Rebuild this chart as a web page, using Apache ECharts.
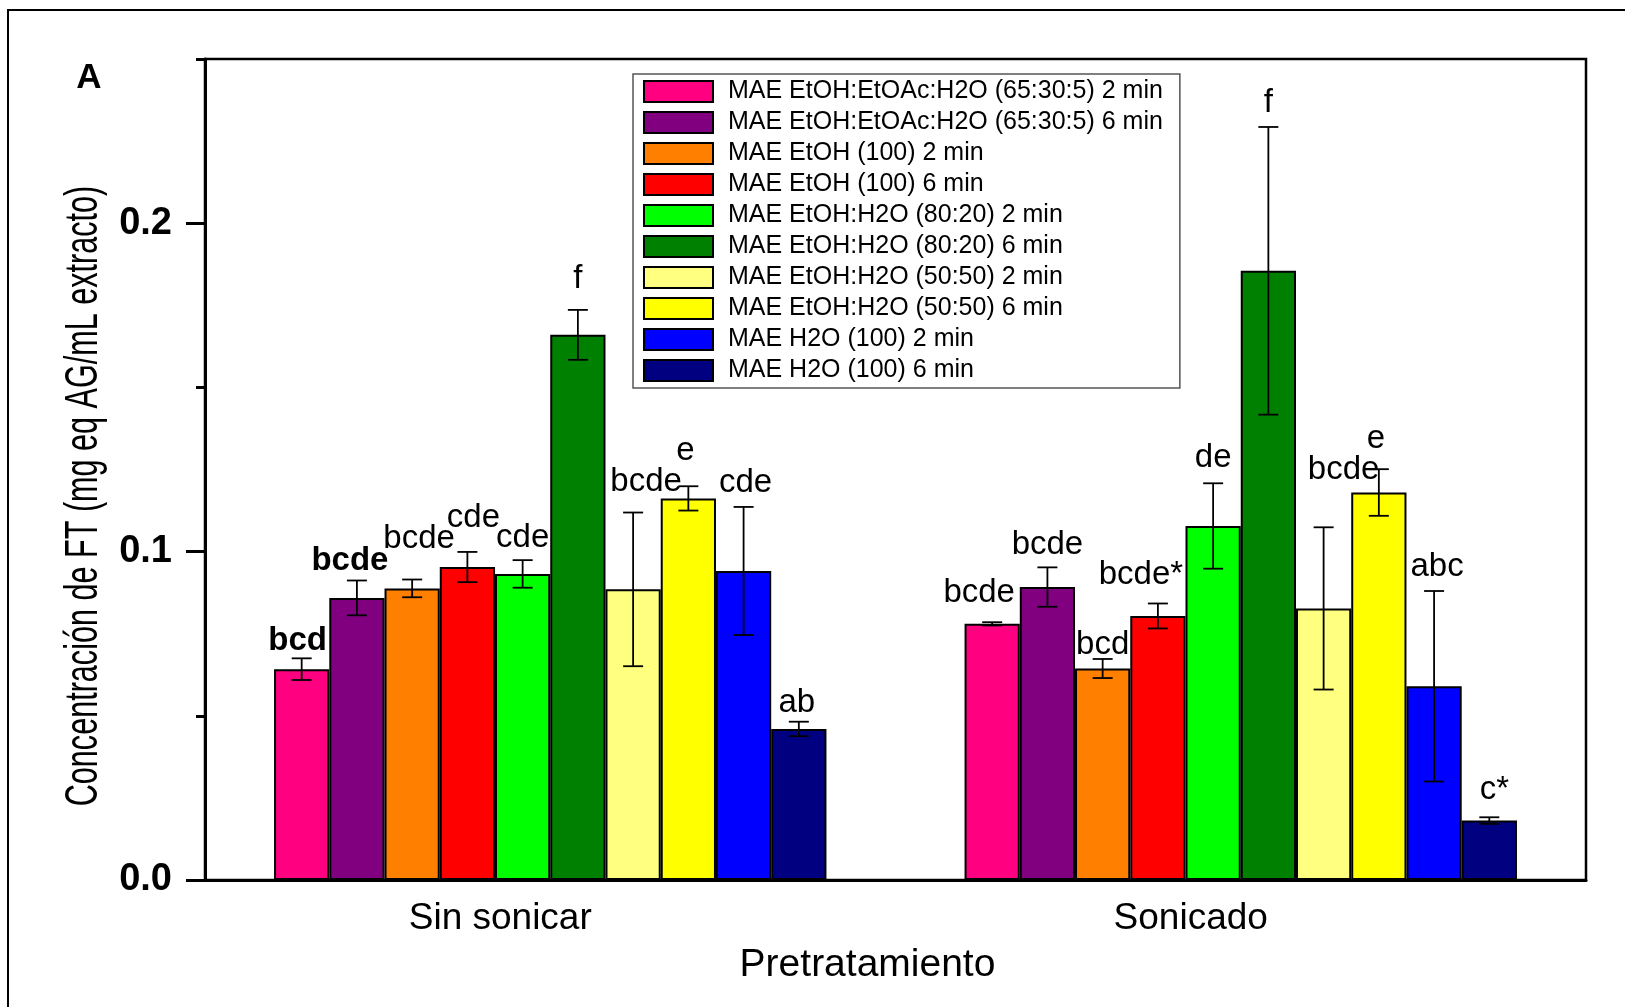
<!DOCTYPE html>
<html>
<head>
<meta charset="utf-8">
<title>Concentración de FT</title>
<script src="https://cdn.jsdelivr.net/npm/echarts@6/dist/echarts.min.js"></script>
<style>
  html, body { margin: 0; padding: 0; background: #ffffff; }
  #chart { width: 1625px; height: 1007px; }
</style>
</head>
<body>
<div id="chart"></div>
<script>
  // datos
  const categories = ['Sin sonicar', 'Sonicado']
  const seriesNames = [
    'MAE EtOH:EtOAc:H2O (65:30:5) 2 min',
    'MAE EtOH:EtOAc:H2O (65:30:5) 6 min',
    'MAE EtOH (100) 2 min',
    'MAE EtOH (100) 6 min',
    'MAE EtOH:H2O (80:20) 2 min',
    'MAE EtOH:H2O (80:20) 6 min',
    'MAE EtOH:H2O (50:50) 2 min',
    'MAE EtOH:H2O (50:50) 6 min',
    'MAE H2O (100) 2 min',
    'MAE H2O (100) 6 min'
  ]
  const meanSinSonicar = [0.0642, 0.0859, 0.0888, 0.0953, 0.0932, 0.166, 0.0885, 0.1162, 0.0941, 0.046]
  const errSinSonicar = [0.0033, 0.0053, 0.0027, 0.0046, 0.0042, 0.0076, 0.0234, 0.0037, 0.0195, 0.0022]
  const meanSonicado = [0.078, 0.0892, 0.0644, 0.0804, 0.1078, 0.1855, 0.0827, 0.118, 0.059, 0.0181]
  const errSonicado = [0.0005, 0.006, 0.0029, 0.0038, 0.013, 0.0438, 0.0247, 0.0071, 0.029, 0.001]
  const letrasSinSonicar = ['bcd', 'bcde', 'bcde', 'cde', 'cde', 'f', 'bcde', 'e', 'cde', 'ab']
  const letrasSonicado = ['bcde', 'bcde', 'bcd', 'bcde*', 'de', 'f', 'bcde', 'e', 'abc', 'c*']
  const yLabelTicks = [0, 0.1, 0.2]

  const colors = ['#FF0080', '#800080', '#FF8000', '#FF0000', '#00FF00',
    '#008000', '#FFFF80', '#FFFF00', '#0000FF', '#000080']
  const FONT = "'Liberation Sans', Arial, sans-serif"

  // pequeños desplazamientos [dx, dy] de las letras, colocadas a mano en el original
  const nudgeSinSonicar = [[-4, 7], [-7, 5], [7, -16], [6, -10], [0, 2], [0, -6], [13, -6], [-3, -11], [2, 0], [-2, 6]]
  const nudgeSonicado = [[-13, -5], [0, 2], [0, 10], [-17, -4], [0, -1], [0, 0], [20, -33], [-3, -6], [3, 0], [5, -3]]

  const chart = echarts.init(document.getElementById('chart'))

  // barras
  const barSeries = seriesNames.map((name, i) => ({
    name,
    type: 'bar',
    data: [meanSinSonicar[i], meanSonicado[i]],
    barGap: '0%',
    barCategoryGap: '20%',
    itemStyle: { color: colors[i], borderColor: '#000', borderWidth: 2 }
  }))

  // barras de error + letras
  const errorData = []
  categories.forEach((c, ci) => {
    const means = ci === 0 ? meanSinSonicar : meanSonicado
    const errs = ci === 0 ? errSinSonicar : errSonicado
    means.forEach((m, si) => {
      errorData.push([ci, si, m - errs[si], m + errs[si]])
    })
  })

  function renderErrorBar(params, api) {
    const ci = api.value(0)
    const si = api.value(1)
    const n = seriesNames.length
    const barWidth = api.size([1, 0])[0] * 0.8 / n
    const x = api.coord([ci, 0])[0] + (si - (n - 1) / 2) * barWidth
    const yLow = api.coord([ci, api.value(2)])[1]
    const yHigh = api.coord([ci, api.value(3)])[1]
    const cap = 10
    const line = { stroke: '#000', lineWidth: 1.8 }
    const letters = ci === 0 ? letrasSinSonicar : letrasSonicado
    const nudge = (ci === 0 ? nudgeSinSonicar : nudgeSonicado)[si]
    // en el original las dos primeras letras de "Sin sonicar" van en negrita
    const bold = ci === 0 && si < 2
    return {
      type: 'group',
      children: [
        { type: 'line', shape: { x1: x, y1: yLow, x2: x, y2: yHigh }, style: line },
        { type: 'line', shape: { x1: x - cap, y1: yHigh, x2: x + cap, y2: yHigh }, style: line },
        { type: 'line', shape: { x1: x - cap, y1: yLow, x2: x + cap, y2: yLow }, style: line },
        {
          type: 'text',
          x: x + nudge[0],
          y: yHigh - 8 + nudge[1],
          style: {
            text: letters[si],
            fill: '#000',
            fontSize: 33,
            fontWeight: bold ? 'bold' : 'normal',
            fontFamily: FONT,
            align: 'center',
            verticalAlign: 'bottom'
          }
        }
      ]
    }
  }

  chart.setOption({
    animation: false,
    backgroundColor: '#fff',
    grid: {
      left: 205,
      top: 59,
      right: 39,
      bottom: 127,
      show: true,
      borderColor: '#000',
      borderWidth: 2.5,
      outerBoundsMode: 'none'
    },
    legend: {
      data: seriesNames,
      orient: 'vertical',
      left: 633,
      top: 74,
      padding: [5, 17, 5, 10],
      itemWidth: 69,
      itemHeight: 21,
      itemGap: 6,
      icon: 'rect',
      borderColor: '#555',
      borderWidth: 1.5,
      itemStyle: { borderColor: '#000', borderWidth: 2 },
      textStyle: {
        color: '#000',
        fontSize: 25,
        fontFamily: FONT,
        padding: [0, 0, 0, 10]
      }
    },
    xAxis: {
      type: 'category',
      data: categories,
      name: 'Pretratamiento',
      nameLocation: 'middle',
      nameGap: 66,
      nameTextStyle: { color: '#000', fontSize: 39, fontFamily: FONT, padding: [0, 56, 0, 0] },
      axisLine: { lineStyle: { color: '#000', width: 3 } },
      axisTick: { show: false },
      axisLabel: {
        color: '#000',
        fontSize: 37,
        fontFamily: FONT,
        margin: 20,
        padding: [0, 100, 0, 0]
      }
    },
    yAxis: [
      {
        // ticks menores cada 0.05
        type: 'value',
        position: 'left',
        min: 0,
        max: 0.25,
        interval: 0.05,
        axisLine: { show: true, lineStyle: { color: '#000', width: 3 } },
        axisTick: { show: true, length: 9, lineStyle: { color: '#000', width: 3 } },
        axisLabel: { show: false },
        splitLine: { show: false }
      },
      {
        // ticks mayores y etiquetas
        type: 'value',
        position: 'left',
        min: 0,
        max: 0.25,
        axisLine: { show: false },
        axisTick: { show: true, length: 19, customValues: yLabelTicks, lineStyle: { color: '#000', width: 3 } },
        axisLabel: {
          customValues: yLabelTicks,
          formatter: (v) => v.toFixed(1),
          color: '#000',
          fontSize: 38,
          fontWeight: 'bold',
          fontFamily: FONT,
          margin: 33
        },
        splitLine: { show: false }
      }
    ],
    graphic: [
      {
        type: 'rect',
        shape: { x: 8, y: 10, width: 1640, height: 1020 },
        style: { fill: 'none', stroke: '#000', lineWidth: 2 },
        silent: true
      },
      {
        type: 'text',
        x: 89,
        y: 78,
        style: { text: 'A', fill: '#000', fontSize: 35, fontWeight: 'bold', fontFamily: FONT, align: 'center', verticalAlign: 'middle' }
      },
      {
        // título del eje Y, condensado como en la figura
        type: 'text',
        x: 84,
        y: 496,
        rotation: Math.PI / 2,
        scaleX: 0.665,
        style: {
          text: 'Concentración de FT (mg eq AG/mL extracto)',
          fill: '#000',
          fontSize: 46,
          fontFamily: FONT,
          align: 'center',
          verticalAlign: 'middle'
        }
      }
    ],
    series: [
      ...barSeries,
      {
        name: 'error',
        type: 'custom',
        renderItem: renderErrorBar,
        data: errorData,
        encode: { x: 0, y: [2, 3] },
        z: 10
      }
    ]
  })
</script>
</body>
</html>
